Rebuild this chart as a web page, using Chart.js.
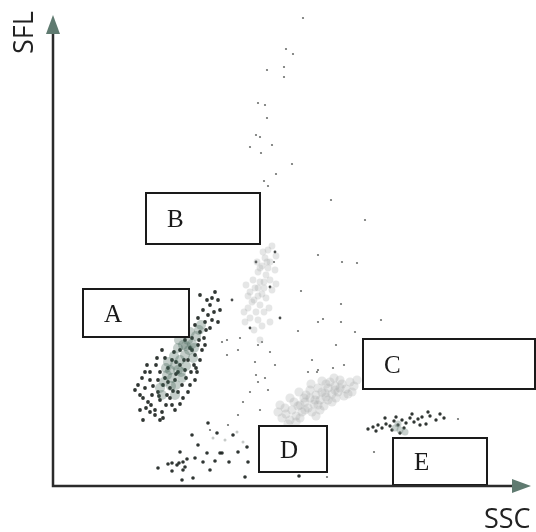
<!DOCTYPE html>
<html>
<head>
<meta charset="utf-8">
<script src="https://cdn.jsdelivr.net/npm/chart.js@4/dist/chart.umd.min.js"></script>
<style>
  html, body { margin: 0; padding: 0; background: #fff; }
  #wrap { width: 536px; height: 532px; position: relative; }
</style>
</head>
<body>
<div id="wrap"><canvas id="chart"></canvas></div>
<script>
// axis ranges (arbitrary channel units)
const xRange = [0, 475];
const yRange = [0, 471];
const xTitle = 'SSC';
const yTitle = 'SFL';

// events, [SSC, SFL]
const popA = [[95,84],[99,91],[92,98],[102,76],[107,86],[105,94],[97,106],[110,101],[114,91],[119,81],
  [112,108],[117,98],[122,106],[107,114],[115,118],[125,114],[129,101],[123,124],[132,116],[127,136],
  [135,126],[137,138],[142,131],[132,146],[139,148],[145,141],[147,154],[142,161],[152,164],[155,171],
  [157,181],[150,176],[159,188],[162,194],[154,186],[145,168],[135,156],[121,134],[112,128],[103,121],
  [97,114],[89,108],[87,91],[93,78],[102,71],[109,74],[117,88],[125,94],[133,108],[141,121],
  [147,126],[151,148],[157,158],[161,174],[165,186],[130,88],[137,101],[119,126],[109,136],[105,106],
  [100,100],[115,104],[123,112],[131,126],[139,136],[146,146],[153,156],[127,121],[120,95],[113,81],
  [106,90],[98,81],[90,88],[104,128],[94,121],[138,114],[144,114],[149,136],[135,94],[142,106],
  [82,96],[87,76],[90,66],[107,66],[97,74],[110,68],[122,76],[92,114],[85,101],[127,82],
  [143,118],[152,141],[159,166],[167,176],[165,164],[147,191]];
const popACore = [[117,116],[122,121],[127,126],[132,131],[125,138],[130,141],[135,146],[137,154],
  [119,108],[114,111],[123,101],[129,108],[133,120],[141,138],[143,150],[121,130],[115,124],[111,104],
  [107,98],[125,116],[136,136],[139,142],[128,114],[118,100],[113,118],[133,140],[146,156],[148,161],
  [126,146],[122,91],[109,91],[140,128]];
const popB = [[215,236],[219,240],[212,228],[217,224],[209,220],[222,216],[205,214],[213,211],[217,206],
  [207,204],[202,198],[211,198],[219,196],[197,194],[205,190],[213,188],[199,184],[207,181],[195,178],
  [203,174],[211,174],[197,168],[205,166],[192,164],[209,160],[201,156],[195,190],[215,218],[223,230],
  [210,234],[216,178],[204,224],[209,192],[200,206],[223,202],[191,174],[207,146],[217,164],[193,201],
  [211,204],[205,198],[201,186],[207,218],[214,224]];
const popBDark = [[222,234],[203,224],[217,199],[227,168],[179,186],[197,158]];
const scatter = [[250,468],[233,437],[240,432],[214,416],[231,419],[231,409],[205,383],[212,381],
  [214,368],[203,351],[207,349],[197,339],[219,341],[208,333],[239,322],[223,312],[211,305],[215,300],
  [278,286],[312,266],[265,231],[289,224],[304,223],[221,224],[248,195],[245,155],[265,164],[288,182],
  [328,166],[405,67],[321,34],[274,9],
  [174,146],[187,148],[205,141],[209,144],[174,131],[202,124],[217,134],[203,111],[205,104],[197,94],
  [212,108],[215,96],[185,71],[190,84],[157,56],[175,61],[207,76],[222,121],[169,144],[185,136],
  [259,126],[265,116],[280,118],[291,121],[283,141],[302,154],[288,164],[270,167],[264,114],[255,114]];
const popD = [[229,68],[233,72],[237,66],[239,76],[243,70],[245,80],[249,74],[252,84],[255,78],[257,88],
  [261,82],[263,91],[267,86],[269,94],[273,89],[275,98],[279,92],[282,100],[285,94],[289,102],
  [293,97],[297,104],[301,100],[287,106],[277,104],[265,98],[253,91],[241,84],[232,78],[247,68],
  [259,74],[271,80],[283,88],[295,92],[235,62],[225,74],[267,76],[257,96],[273,102],[243,64],
  [251,88],[263,70],[279,84],[291,90],[304,106],[299,94],[227,81],[237,88],[246,94],[258,102],
  [281,108],[269,105],[262,86],[272,93],[252,76],[282,96],[247,81],[265,81],[275,86],[287,98]];
const popE = [[315,57],[320,59],[325,61],[329,58],[333,62],[337,60],[341,65],[345,61],[349,66],[353,63],
  [357,68],[361,64],[365,67],[369,69],[373,62],[377,70],[383,66],[387,72],[332,68],[343,69],
  [351,58],[359,72],[323,55],[339,56],[367,61],[375,74],[391,68],[347,53]];
const popEFaint = [[342,58],[347,56],[352,54],[345,62]];
const popLow = [[115,22],[119,23],[124,21],[126,23],[130,24],[132,19],[119,15],[130,16],[127,34],[145,41],
  [154,33],[157,16],[167,33],[169,33],[194,39],[195,24],[185,34],[164,53],[180,51],[155,63],
  [139,51],[105,18],[142,28],[150,24],[162,25],[134,27],[129,6],[140,8],[176,24],[246,10],[192,9]];
const popLowFaint = [[160,48],[172,46],[184,54],[190,44]];

// gates: label, SSC from/to, SFL from/to
const gateNames = ['A', 'B', 'C', 'D', 'E'];
const gateX = [[30, 136], [93, 207], [310, 482], [206, 274], [340, 434]];
const gateY = [[149, 197], [242, 293], [97, 147], [14, 60], [1, 48]];

const pts = arr => arr.map(p => ({ x: p[0], y: p[1] }));

const gatesPlugin = {
  id: 'gates',
  afterDatasetsDraw(chart) {
    const ctx = chart.ctx;
    const xs = chart.scales.x, ys = chart.scales.y;
    ctx.save();
    gateNames.forEach((name, i) => {
      const l = xs.getPixelForValue(gateX[i][0]);
      const r = xs.getPixelForValue(gateX[i][1]);
      const t = ys.getPixelForValue(gateY[i][1]);
      const b = ys.getPixelForValue(gateY[i][0]);
      ctx.fillStyle = '#fff';
      ctx.fillRect(l, t, r - l, b - t);
      ctx.strokeStyle = '#1a1a1a';
      ctx.lineWidth = 2;
      ctx.strokeRect(l, t, r - l, b - t);
      ctx.fillStyle = '#1a1a1a';
      ctx.font = '25px "Liberation Serif", serif';
      ctx.textBaseline = 'middle';
      ctx.textAlign = 'left';
      ctx.fillText(name, l + 21, (t + b) / 2 + 2);
    });
    ctx.restore();
  },
  afterDraw(chart) {
    const ctx = chart.ctx;
    const { left, right, top, bottom } = chart.chartArea;
    ctx.save();
    ctx.strokeStyle = '#2b2b2b';
    ctx.lineWidth = 2.5;
    ctx.beginPath();
    ctx.moveTo(left, top + 14);
    ctx.lineTo(left, bottom);
    ctx.lineTo(right - 12, bottom);
    ctx.stroke();
    ctx.fillStyle = '#5f7a70';
    ctx.beginPath();
    ctx.moveTo(left, top);
    ctx.lineTo(left - 7, top + 19);
    ctx.lineTo(left + 7, top + 19);
    ctx.closePath();
    ctx.fill();
    ctx.beginPath();
    ctx.moveTo(right + 3, bottom);
    ctx.lineTo(right - 16, bottom - 7);
    ctx.lineTo(right - 16, bottom + 7);
    ctx.closePath();
    ctx.fill();

    ctx.fillStyle = '#222';
    ctx.font = '27px "Open Sans", sans-serif';
    ctx.textAlign = 'left';
    ctx.textBaseline = 'alphabetic';
    ctx.fillText(xTitle, right - 44, bottom + 42);
    ctx.translate(left - 20, top + 39);
    ctx.rotate(-Math.PI / 2);
    ctx.fillText(yTitle, 0, 0);
    ctx.restore();
  }
};

new Chart(document.getElementById('chart'), {
  type: 'scatter',
  data: {
    datasets: [
      { data: pts(popD), backgroundColor: 'rgba(165,170,168,0.28)', pointRadius: 4.6 },
      { data: pts(popB), backgroundColor: 'rgba(160,166,164,0.28)', pointRadius: 3.4 },
      { data: pts(popACore), backgroundColor: 'rgba(60,92,80,0.3)', pointRadius: 5 },
      { data: pts(popEFaint), backgroundColor: 'rgba(120,140,132,0.4)', pointRadius: 3.5 },
      { data: pts(popLowFaint), backgroundColor: 'rgba(160,166,164,0.6)', pointRadius: 1.5 },
      { data: pts(scatter), backgroundColor: 'rgba(60,64,62,0.75)', pointRadius: 1.1 },
      { data: pts(popBDark), backgroundColor: 'rgba(40,44,42,0.85)', pointRadius: 1.4 },
      { data: pts(popA), backgroundColor: 'rgba(25,32,29,0.9)', pointRadius: 1.9 },
      { data: pts(popE), backgroundColor: 'rgba(25,32,29,0.9)', pointRadius: 1.7 },
      { data: pts(popLow), backgroundColor: 'rgba(25,32,29,0.9)', pointRadius: 1.8 }
    ]
  },
  options: {
    responsive: true,
    maintainAspectRatio: false,
    animation: false,
    layout: { padding: { left: 53, top: 15, right: 8, bottom: 46 } },
    scales: {
      x: { type: 'linear', min: xRange[0], max: xRange[1], display: false },
      y: { type: 'linear', min: yRange[0], max: yRange[1], display: false }
    },
    elements: { point: { borderWidth: 0, hoverRadius: 0 } },
    plugins: { legend: { display: false }, tooltip: { enabled: false } }
  },
  plugins: [gatesPlugin]
});
</script>
</body>
</html>
